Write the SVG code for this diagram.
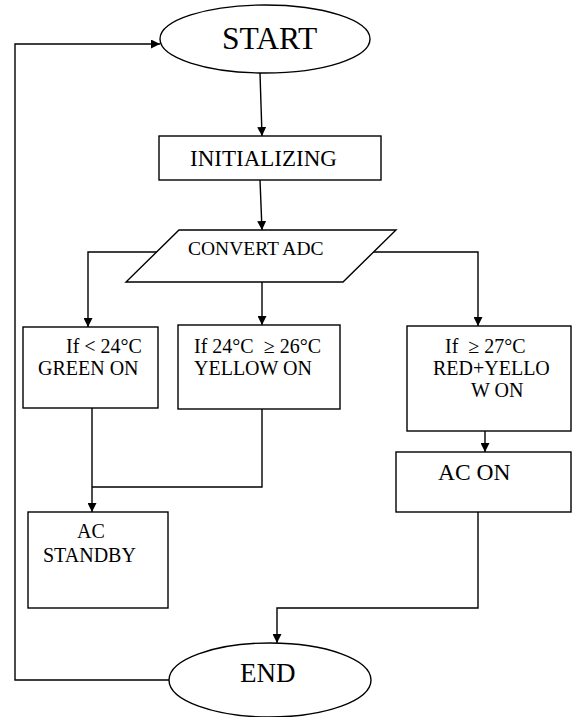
<svg xmlns="http://www.w3.org/2000/svg" width="573" height="717" viewBox="0 0 573 717">
<style>
.s{fill:#fff;stroke:#000;stroke-width:1.4}
.c{fill:none;stroke:#000;stroke-width:1.4}
text{font-family:"Liberation Serif","Times New Roman",serif;fill:#000;white-space:pre}
</style>
<defs>
<marker id="a" viewBox="0 0 10 10" refX="10" refY="5" markerWidth="9" markerHeight="9" markerUnits="userSpaceOnUse" orient="auto">
<path d="M0,0 L10,5 L0,10 z" fill="#000"/>
</marker>
</defs>
<rect width="573" height="717" fill="#fff"/>
<g id="connectors">
<path class="c" d="M260,73 L262,136" marker-end="url(#a)"/>
<path class="c" d="M260,180 L262,230" marker-end="url(#a)"/>
<path class="c" d="M157,252 L88,252 L88,327" marker-end="url(#a)"/>
<path class="c" d="M262,282 L262,325" marker-end="url(#a)"/>
<path class="c" d="M373,252 L478,252 L478,326" marker-end="url(#a)"/>
<path class="c" d="M485,431 L485,452" marker-end="url(#a)"/>
<path class="c" d="M92,408 L92,512" marker-end="url(#a)"/>
<path class="c" d="M262,409 L262,487 L92,487"/>
<path class="c" d="M478,512 L478,608 L277,608 L277,643" marker-end="url(#a)"/>
<path class="c" d="M169,680 L15,680 L15,44 L160,44" marker-end="url(#a)"/>
</g>
<g id="start">
<ellipse class="s" cx="265" cy="39" rx="105" ry="34"/>
<text x="222" y="49" font-size="31.5">START</text>
</g>
<g id="init">
<rect class="s" x="159" y="136" width="222" height="44"/>
<text x="190" y="166" font-size="23">INITIALIZING</text>
</g>
<g id="convert">
<polygon class="s" points="179,230 396,230 343,282 126,282"/>
<text x="188" y="255" font-size="19.5">CONVERT ADC</text>
</g>
<g id="green">
<rect class="s" x="23" y="327" width="135" height="81"/>
<text x="66" y="353" font-size="20">If &lt; 24°C</text>
<text x="38" y="375" font-size="20">GREEN ON</text>
</g>
<g id="yellow">
<rect class="s" x="178" y="325" width="162" height="84"/>
<text x="194" y="353" font-size="20">If 24°C  ≥ 26°C</text>
<text x="194" y="375" font-size="20">YELLOW ON</text>
</g>
<g id="red">
<rect class="s" x="407" y="326" width="164" height="105"/>
<text x="445" y="353" font-size="20">If  ≥ 27°C</text>
<text x="433" y="375" font-size="20">RED+YELLO</text>
<text x="471" y="397" font-size="20">W ON</text>
</g>
<g id="acon">
<rect class="s" x="396" y="452" width="175" height="60"/>
<text x="438" y="480" font-size="23.5">AC ON</text>
</g>
<g id="standby">
<rect class="s" x="28" y="512" width="140" height="96"/>
<text x="77" y="538" font-size="20">AC</text>
<text x="43" y="562" font-size="20">STANDBY</text>
</g>
<g id="end">
<ellipse class="s" cx="270" cy="680" rx="101" ry="37"/>
<text x="240" y="682" font-size="27">END</text>
</g>
</svg>
